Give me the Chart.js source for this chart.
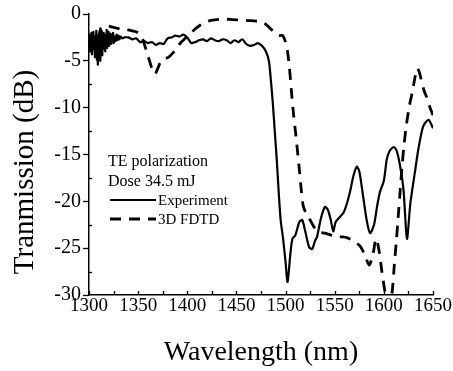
<!DOCTYPE html>
<html lang="en">
<head>
    <meta charset="UTF-8">
    <title>TE polarization transmission</title>
    <script src="https://cdn.jsdelivr.net/npm/chart.js@4.4.3/dist/chart.umd.min.js"></script>
    <style>
        html, body { margin: 0; padding: 0; background: #fff; }
        canvas { display: block; }
    </style>
</head>
<body>
    <canvas id="transmissionChart" width="453" height="371"></canvas>
    <script>
        // Experiment (solid line)
        const expWavelength = [
            1300, 1300.5, 1301, 1301.5, 1302, 1302.5, 1303, 1303.5, 1304, 1304.5,
            1305, 1305.5, 1306, 1306.5, 1307, 1307.5, 1308, 1308.5, 1309, 1309.5,
            1310, 1310.5, 1311, 1311.5, 1312, 1312.5, 1313, 1313.5, 1314, 1314.5,
            1315, 1315.5, 1316, 1316.5, 1317, 1317.5, 1318, 1318.5, 1319, 1319.5,
            1320, 1320.5, 1321, 1321.5, 1322, 1322.5, 1323, 1324, 1324.5, 1325,
            1326, 1327, 1328, 1329, 1330, 1331, 1332, 1334, 1336, 1340,
            1344, 1348, 1352, 1356, 1360, 1364, 1368, 1372, 1376, 1380,
            1384, 1388, 1392, 1396, 1400, 1404, 1408, 1412, 1416, 1420,
            1424, 1428, 1432, 1436, 1440, 1444, 1448, 1452, 1456, 1460,
            1464, 1468, 1472, 1476, 1480, 1483, 1485, 1487, 1489, 1491,
            1493, 1495, 1497.5, 1500, 1502, 1505, 1507, 1510, 1514, 1517,
            1520, 1524, 1527, 1530, 1532, 1536, 1540, 1543, 1546, 1548.5,
            1551, 1555, 1559, 1562.5, 1566, 1569, 1572.5, 1575, 1578, 1582.5,
            1586, 1590, 1593, 1596, 1600, 1603, 1606, 1610, 1613, 1616.5,
            1620, 1623.5, 1627, 1632, 1635, 1640, 1645.5, 1650
        ];
        const expTransmission = [
            -3.0, -2.2, -4.0, -2.5, -3.6, -2.0, -4.3, -2.6, -3.4, -1.9,
            -3.8, -2.4, -4.6, -2.8, -3.3, -1.8, -4.9, -2.5, -5.4, -3.0,
            -2.2, -4.1, -2.0, -5.0, -2.6, -3.9, -1.8, -4.4, -2.3, -3.5,
            -2.0, -3.7, -2.2, -4.0, -2.6, -3.3, -1.7, -3.6, -2.4, -3.1,
            -1.9, -3.4, -2.3, -3.0, -2.1, -3.2, -2.5, -2.9, -2.0, -3.1,
            -2.4, -2.9, -2.2, -2.8, -2.3, -2.7, -2.4, -2.6, -2.5, -2.5,
            -2.7, -2.6, -3.0, -2.9, -3.1, -3.0, -3.3, -3.1, -3.2, -2.6,
            -2.5, -2.3, -2.4, -2.2, -2.5, -3.1, -3.0, -2.8, -2.7, -2.9,
            -2.6, -2.8, -2.9, -2.7, -2.8, -3.1, -2.8, -3.0, -2.7, -3.2,
            -3.4, -3.3, -3.1, -3.4, -4.0, -5.0, -7.0, -9.5, -12.5, -15.5,
            -19.0, -22.0, -24.0, -26.5, -28.6, -25.5, -24.0, -23.6, -22.2, -22.0,
            -23.2, -24.9, -25.1, -24.2, -23.8, -21.8, -20.6, -20.9, -22.0, -23.2,
            -22.2, -21.7, -21.2, -20.2, -18.8, -17.3, -16.3, -16.8, -18.8, -22.0,
            -23.4, -22.5, -20.6, -19.0, -17.8, -15.5, -14.6, -14.2, -14.6, -16.2,
            -18.8, -24.0, -20.2, -16.6, -14.5, -12.0, -11.3, -12.2
        ];

        // 3D FDTD (dashed line)
        const fdtdWavelength = [
            1310, 1312, 1316, 1320, 1324, 1328, 1332, 1336, 1340, 1344,
            1348, 1352, 1355, 1358, 1361, 1364, 1367, 1370, 1373, 1377,
            1381, 1385, 1389, 1393, 1398, 1403, 1408, 1413, 1418, 1423,
            1430, 1438, 1446, 1454, 1462, 1470, 1474, 1480, 1485, 1490,
            1494, 1497, 1500, 1502, 1504, 1506, 1508, 1510, 1512, 1514,
            1516, 1518, 1521, 1525, 1530, 1535, 1540, 1546, 1552, 1558,
            1563, 1570, 1576, 1581, 1585, 1589, 1592, 1595, 1598, 1601,
            1603, 1606, 1608.5, 1610.5, 1612.5, 1614.5, 1616.5, 1618.5, 1620.5, 1623,
            1626, 1629, 1632, 1634, 1636, 1638, 1641, 1644, 1647, 1650
        ];
        const fdtdTransmission = [
            -2.6, -1.5, -1.3, -1.3, -1.4, -1.5, -1.6, -1.6, -1.7, -1.8,
            -1.9, -2.2, -2.8, -3.8, -4.8, -5.8, -6.4, -5.8, -5.1, -4.8,
            -4.6, -4.2, -3.7, -3.1, -2.6, -2.1, -1.6, -1.2, -0.9, -0.7,
            -0.6, -0.55, -0.6, -0.65, -0.7, -0.75, -0.75, -1.1, -1.6, -2.1,
            -2.3, -2.3, -3.0, -4.0, -5.8, -8.3, -10.6, -12.5, -14.5, -16.6,
            -18.8, -20.5, -21.3, -22.0, -22.9, -23.3, -23.4, -23.6, -23.8, -23.8,
            -23.9, -24.3, -24.8, -25.8, -26.8, -25.6, -24.0, -25.2, -27.5, -29.6,
            -31.0, -31.0, -29.6, -27.0, -24.5, -21.8, -19.0, -16.3, -14.0, -11.8,
            -9.8, -8.3, -6.6, -5.8, -6.2, -7.0, -8.2, -9.0, -10.0, -10.8
        ];

        const xTicks = [1300, 1350, 1400, 1450, 1500, 1550, 1600, 1650];
        const yTicks = [0, -5, -10, -15, -20, -25, -30];
        const seriesNames = ['Experiment', '3D FDTD'];
        const noteLines = ['TE polarization', 'Dose 34.5 mJ'];

        const serif = '"Liberation Serif", "Times New Roman", serif';

        function toPoints(xs, ys) {
            return xs.map((x, i) => ({ x: x, y: ys[i] }));
        }

        // small inward ticks, the y axis title and the legend block
        const decorPlugin = {
            id: 'decor',
            afterDraw(chart) {
                const ctx = chart.ctx;
                const area = chart.chartArea;
                const xs = chart.scales.x;
                const ys = chart.scales.y;
                ctx.save();
                ctx.strokeStyle = '#000';
                ctx.lineWidth = 1.3;
                for (let v = xs.min; v <= xs.max; v += 25) {
                    const px = Math.round(xs.getPixelForValue(v)) + 0.5;
                    ctx.beginPath();
                    ctx.moveTo(px, area.bottom);
                    ctx.lineTo(px, area.bottom - 4);
                    ctx.stroke();
                }
                for (let v = ys.max - 2.5; v > ys.min; v -= 5) {
                    const py = Math.round(ys.getPixelForValue(v)) + 0.5;
                    ctx.beginPath();
                    ctx.moveTo(area.left, py);
                    ctx.lineTo(area.left + 3, py);
                    ctx.stroke();
                }

                // y axis title
                ctx.fillStyle = '#000';
                ctx.font = '29px ' + serif;
                ctx.textAlign = 'center';
                ctx.textBaseline = 'middle';
                ctx.save();
                ctx.translate(25, 172);
                ctx.rotate(-Math.PI / 2);
                ctx.fillText('Tranmission (dB)', 0, 0);
                ctx.restore();

                // notes and legend
                const lx = area.left + 19;
                ctx.textAlign = 'left';
                ctx.textBaseline = 'alphabetic';
                ctx.font = '16px ' + serif;
                ctx.fillText(noteLines[0], lx, 166);
                ctx.fillText(noteLines[1], lx, 186);
                ctx.font = '15px ' + serif;
                chart.data.datasets.forEach((ds, i) => {
                    const yy = 200 + i * 19;
                    ctx.strokeStyle = ds.borderColor;
                    ctx.lineWidth = ds.borderWidth;
                    ctx.setLineDash(ds.borderDash || []);
                    ctx.beginPath();
                    ctx.moveTo(lx + 2, yy);
                    ctx.lineTo(lx + 48, yy);
                    ctx.stroke();
                    ctx.setLineDash([]);
                    ctx.fillText(seriesNames[i], lx + 50, yy + 5);
                });
                ctx.restore();
            }
        };

        new Chart(document.getElementById('transmissionChart'), {
            type: 'line',
            data: {
                datasets: [{
                    label: seriesNames[0],
                    data: toPoints(expWavelength, expTransmission),
                    borderColor: '#000',
                    borderWidth: 2.2,
                    pointRadius: 0,
                    tension: 0.25,
                    fill: false
                }, {
                    label: seriesNames[1],
                    data: toPoints(fdtdWavelength, fdtdTransmission),
                    borderColor: '#000',
                    borderWidth: 2.8,
                    borderDash: [11, 8],
                    pointRadius: 0,
                    tension: 0.3,
                    fill: false
                }]
            },
            options: {
                responsive: false,
                animation: false,
                devicePixelRatio: 1,
                layout: { padding: { top: 14, right: 20, left: 0, bottom: 0 } },
                plugins: {
                    legend: { display: false },
                    tooltip: { enabled: false }
                },
                scales: {
                    x: {
                        type: 'linear',
                        min: 1300,
                        max: 1650,
                        afterBuildTicks: scale => {
                            scale.ticks = xTicks.map(v => ({ value: v }));
                        },
                        afterFit: scale => {
                            scale.height = 76;
                            scale.paddingLeft = 0;
                            scale.paddingRight = 0;
                        },
                        ticks: {
                            color: '#000',
                            font: { family: serif, size: 19 },
                            padding: 0,
                            maxRotation: 0,
                            autoSkip: false,
                            callback: v => String(v)
                        },
                        grid: { drawOnChartArea: false, drawTicks: false },
                        border: { color: '#000', width: 1.5 },
                        title: {
                            display: true,
                            text: 'Wavelength (nm)',
                            color: '#000',
                            font: { family: serif, size: 28 },
                            padding: { top: 0, bottom: 2 }
                        }
                    },
                    y: {
                        min: -30,
                        max: 0,
                        afterBuildTicks: scale => {
                            scale.ticks = yTicks.map(v => ({ value: v }));
                        },
                        afterFit: scale => {
                            scale.width = 89;
                        },
                        ticks: {
                            color: '#000',
                            font: { family: serif, size: 20 },
                            padding: 2,
                            callback: v => String(v)
                        },
                        grid: {
                            drawOnChartArea: false,
                            drawTicks: true,
                            tickLength: 6,
                            tickColor: '#000',
                            tickWidth: 1.3
                        },
                        border: { color: '#000', width: 1.5 }
                    }
                }
            },
            plugins: [decorPlugin]
        });
    </script>
</body>
</html>
